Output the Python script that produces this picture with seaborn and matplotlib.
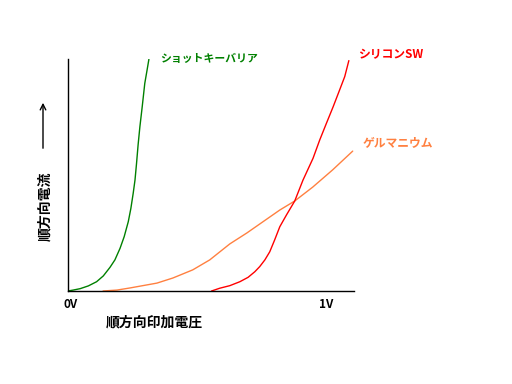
"""
Forward I-V characteristics of Schottky, silicon switching and germanium diodes.
"""

import matplotlib.pyplot as plt
import pandas as pd
import seaborn as sns

# forward voltage [V] / forward current [arbitrary, 0-100]
schottky_v = [0, 0.020, 0.047, 0.079, 0.111, 0.137, 0.163, 0.182, 0.202, 0.218, 0.234,
              0.244, 0.253, 0.260, 0.266, 0.272, 0.279, 0.288, 0.298, 0.307, 0.314]
schottky_i = [0, 0.4, 1.0, 2.2, 4.0, 6.5, 10.2, 13.4, 18.4, 23.4, 29.9,
              35.6, 42.1, 47.8, 55.0, 62.9, 70.8, 79.4, 89.5, 95.3, 99.9]

germanium_v = [0.136, 0.19, 0.240, 0.345, 0.407, 0.484, 0.550, 0.628, 0.694, 0.822, 0.880, 0.950, 1.027, 1.105]
germanium_i = [0, 0.4, 1.3, 3.4, 5.6, 9.1, 13.4, 20.3, 25.0, 34.9, 38.8, 44.8, 52.2, 60.3]

silicon_v = [0.557, 0.589, 0.628, 0.667, 0.699, 0.725, 0.744, 0.764, 0.783, 0.802, 0.822,
             0.848, 0.880, 0.912, 0.951, 0.977, 1.003, 1.029, 1.054, 1.074, 1.090]
silicon_i = [0, 1.2, 2.3, 4.0, 5.9, 8.3, 10.5, 13.4, 16.9, 22.0, 27.7,
             32.8, 38.8, 47.8, 57.2, 65.1, 72.3, 79.4, 86.6, 92.4, 99.3]

SERIES = [
    ("ショットキーバリア", schottky_v, schottky_i, "#008000"),
    ("ゲルマニウム", germanium_v, germanium_i, "#ff8040"),
    ("シリコンSW", silicon_v, silicon_i, "#ff0000"),
]


def main():
    sns.set_style("white")
    plt.rcParams["font.family"] = ["Noto Sans CJK JP", "DejaVu Sans"]

    fig = plt.figure(figsize=(5.12, 3.84), dpi=100)
    ax = fig.add_axes([68 / 512, 1 - 291 / 384, (354 - 68) / 512, (291 - 59) / 384])

    for name, v, i, color in SERIES:
        df = pd.DataFrame({"v": v, "i": i})
        sns.lineplot(data=df, x="v", y="i", ax=ax, color=color, linewidth=1.0,
                     sort=False, estimator=None)

    ax.set_xlim(0, 1.11)
    ax.set_ylim(0, 100)
    ax.set_xticks([])
    ax.set_yticks([])
    ax.set_xlabel("")
    ax.set_ylabel("")
    sns.despine(ax=ax)
    for side in ("left", "bottom"):
        ax.spines[side].set_color("black")
        ax.spines[side].set_linewidth(1.0)

    def px(x, y, s, size=8.5, **kw):
        fig.text(x / 512, 1 - y / 384, s, fontweight="bold", fontsize=size,
                 va="center", **kw)

    px(160, 59, "ショットキーバリア", size=7.8, color="#008000")
    px(358, 55, "シリコンSW", color="#ff0000")
    px(363, 144, "ゲルマニウム", color="#ff8040")
    px(64, 304, "0V", color="black")
    px(319, 304, "1V", color="black")
    px(106, 322, "順方向印加電圧", size=10, color="black")
    px(45, 206, "順方向電流", size=10, color="black", rotation=90, ha="center")

    # "current increases" arrow next to the y label
    ax.annotate("", xy=(43, 384 - 100), xytext=(43, 384 - 151), xycoords="figure pixels",
                textcoords="figure pixels",
                arrowprops=dict(arrowstyle="->", lw=1.0, color="black"))

    fig.savefig("out.png", dpi=100)
    plt.close(fig)


if __name__ == "__main__":
    main()
